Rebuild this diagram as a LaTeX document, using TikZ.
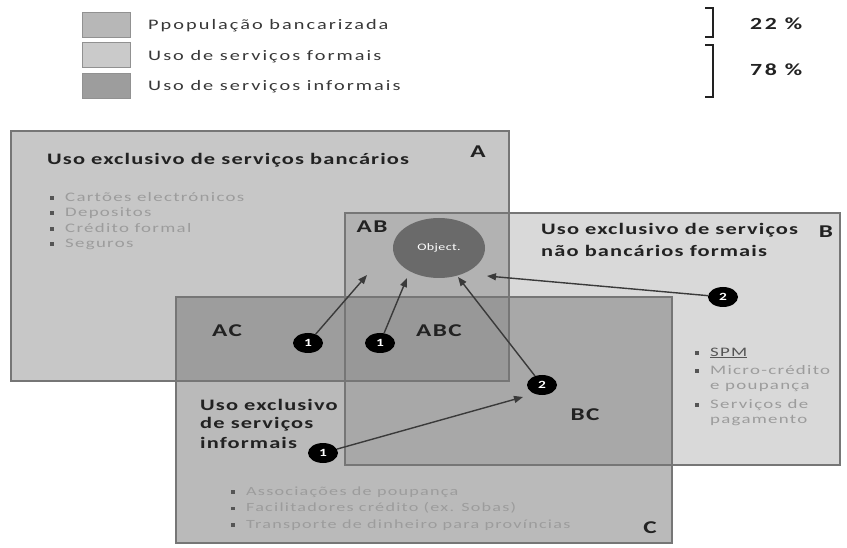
\documentclass[tikz,border=0pt]{standalone}
\usepackage{fontspec}
\setmainfont{Carlito}[FakeStretch=1.4,LetterSpace=4]
\newfontfamily\legfont{Carlito}[FakeStretch=1.4,LetterSpace=14]
\newfontfamily\bulfont{Carlito}[FakeStretch=1.45,LetterSpace=10]
\newfontfamily\headfont{Carlito}[FakeStretch=1.4,LetterSpace=7]
\newfontfamily\labfont{Carlito}[FakeStretch=1.4,LetterSpace=8]
\newfontfamily\pctfont{Carlito}[FakeStretch=1.4,LetterSpace=15]
\usetikzlibrary{arrows.meta,shapes.geometric}
\definecolor{colA}{HTML}{C7C7C7}
\definecolor{colB}{HTML}{D9D9D9}
\definecolor{colC}{HTML}{BABABA}
\definecolor{colAB}{HTML}{B2B2B2}
\definecolor{colAC}{HTML}{9D9D9D}
\definecolor{colBC}{HTML}{A8A8A8}
\definecolor{colABC}{HTML}{989898}
\definecolor{bordcol}{HTML}{767676}
\definecolor{txtdark}{HTML}{222222}
\definecolor{txtlight}{HTML}{9C9C9C}
\definecolor{bulcol}{HTML}{555555}
\definecolor{objcol}{HTML}{6A6A6A}
\definecolor{arrcol}{HTML}{3A3A3A}
\tikzset{
  border/.style={draw=bordcol,line width=1.2pt},
  swatch/.style={draw=bordcol!80,line width=1pt},
  legtext/.style={anchor=west,inner sep=0pt,text=txtdark!90,font=\legfont\fontsize{14.5}{16}\selectfont},
  pct/.style={anchor=west,inner sep=0pt,text=txtdark,font=\pctfont\fontsize{17}{19}\selectfont\bfseries},
  heading/.style={anchor=west,inner sep=0pt,text=txtdark,font=\headfont\fontsize{16}{19}\selectfont\bfseries},
  bultext/.style={anchor=west,inner sep=0pt,text=txtlight,font=\bulfont\fontsize{13}{15}\selectfont},
  bultextc/.style={bultext,font=\bulfont\fontsize{12.5}{15}\selectfont},
  region/.style={inner sep=0pt,text=txtdark,font=\labfont\fontsize{18}{21}\selectfont\bfseries},
  numc/.style={ellipse,fill=black,minimum width=30pt,minimum height=20pt,inner sep=0pt,text=white,font=\fontsize{11}{12}\selectfont\bfseries},
  arr/.style={draw=arrcol,line width=1.4pt,-{Triangle[length=9pt,width=7pt]}},
}
\newcommand{\bul}{\makebox[15pt][l]{\textcolor{bulcol}{\rule[1.5pt]{3.5pt}{3.5pt}}}}
\newcommand{\nobul}{\hspace*{15pt}}
\begin{document}
\begin{tikzpicture}[x=1pt,y=-1pt]
\useasboundingbox (0,0) rectangle (847,548);
\fill[white] (0,0) rectangle (847,548);
% legend
\fill[colA!92!black,swatch] (82,13) rectangle (130,38);
\fill[colB!93!black,swatch] (82,43) rectangle (130,68);
\fill[colAC,swatch] (82,74) rectangle (130,99);
\node[legtext] (l1) at (148,26) {Ppopulação bancarizada};
\node[legtext] (l2) at (148,57) {Uso de serviços formais};
\node[legtext] (l3) at (148,87) {Uso de serviços informais};
\draw[line width=1.3pt,txtdark] (705,8) -- (713,8) -- (713,37) -- (705,37);
\draw[line width=1.3pt,txtdark] (705,45) -- (713,45) -- (713,97) -- (705,97);
\node[pct] (p1) at (750,24) {22 \%};
\node[pct] (p2) at (750,70) {78 \%};
% boxes
\fill[colA] (11,131) rectangle (509,381);
\fill[colB] (345,213) rectangle (840,465);
\fill[colC] (176,297) rectangle (672,543);
\fill[colAB] (345,213) rectangle (509,381);
\fill[colAC] (176,297) rectangle (509,381);
\fill[colBC] (345,297) rectangle (672,465);
\fill[colABC] (345,297) rectangle (509,381);
\draw[border] (11,131) rectangle (509,381);
\draw[border] (345,213) rectangle (840,465);
\draw[border] (176,297) rectangle (672,543);
% box A texts
\node[heading] (ha) at (47,160) {Uso exclusivo de serviços bancários};
\node[bultext] (a1) at (50,197) {\bul Cartões electrónicos};
\node[bultext] (a2) at (50,213) {\bul Depositos};
\node[bultext] (a3) at (50,228) {\bul Crédito formal};
\node[bultext] (a4) at (50,244) {\bul Seguros};
\node[region] (lA) at (478,152) {A};
% box B texts
\node[region] (lAB) at (372,227) {AB};
\node[heading] (hb1) at (541,230) {Uso exclusivo de serviços};
\node[heading] (hb2) at (541,251) {não bancários formais};
\node[region] (lB) at (826,232) {B};
\node[bultext] (b1) at (695,353) {\bul\textcolor{bulcol}{\underline{SPM}}};
\node[bultext] (b2) at (695,370) {\bul Micro-crédito};
\node[bultext] (b3) at (695,387) {\nobul e poupança};
\node[bultext] (b4) at (695,405) {\bul Serviços de};
\node[bultext] (b5) at (695,421) {\nobul pagamento};
% box C texts
\node[region] (lAC) at (227,331) {AC};
\node[region] (lABC) at (439,331) {ABC};
\node[region] (lBC) at (585,415) {BC};
\node[heading] (hc1) at (200,405) {Uso exclusivo};
\node[heading] (hc2) at (200,424) {de serviços};
\node[heading] (hc3) at (200,443) {informais};
\node[bultextc] (c1) at (231,492) {\bul Associações de poupança};
\node[bultextc] (c2) at (231,508) {\bul Facilitadores crédito (ex. Sobas)};
\node[bultextc] (c3) at (231,525) {\bul Transporte de dinheiro para províncias};
\node[region] (lC) at (650,528) {C};
% object
\node[ellipse,fill=objcol,minimum width=92pt,minimum height=60pt,inner sep=0pt,text=white,font=\fontsize{10}{11}\selectfont] (obj) at (439,248) {Object.};
% numbers
\node[numc] (n1a) at (308,343) {1};
\node[numc] (n1b) at (380,343) {1};
\node[numc] (n2a) at (542,385) {2};
\node[numc] (n1c) at (323,453) {1};
\node[numc] (n2b) at (723,297) {2};
\coordinate (t1) at (367,275);
\coordinate (t2) at (407,278);
\coordinate (t3) at (458,277);
\coordinate (t4) at (487,276);
\coordinate (t5) at (523,397);
\draw[arr] (n1a) -- (t1);
\draw[arr] (n1b) -- (t2);
\draw[arr] (n2a) -- (t3);
\draw[arr] (n2b) -- (t4);
\draw[arr] (n1c) -- (t5);
\end{tikzpicture}
\end{document}
